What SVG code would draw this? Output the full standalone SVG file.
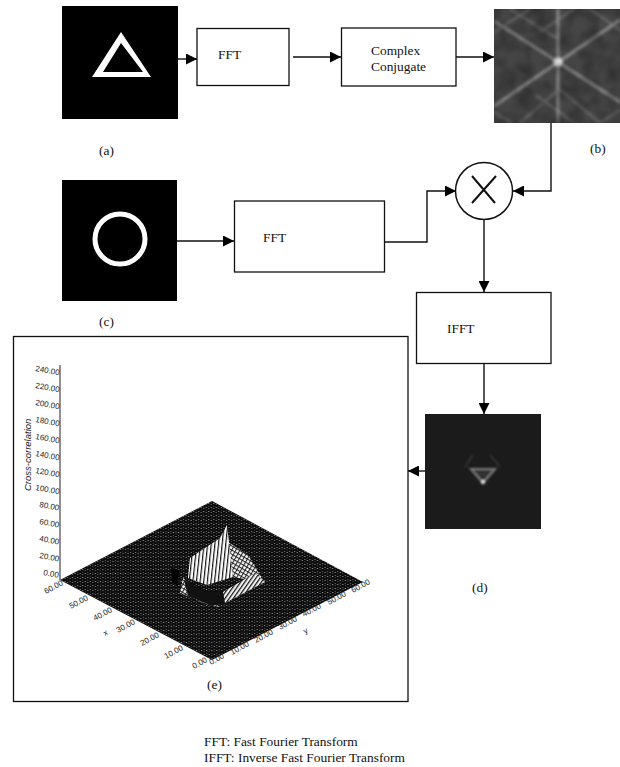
<svg xmlns="http://www.w3.org/2000/svg" width="620" height="767" viewBox="0 0 620 767">
<style>
.box{fill:#fff;stroke:#111;stroke-width:1.3}
.ln{fill:none;stroke:#111;stroke-width:1.4}
.t{font-family:"Liberation Serif","Times New Roman",serif;font-size:13.4px;fill:#111}
.tk{font-family:"Liberation Sans",Arial,sans-serif;font-size:8px;fill:#222}
.bright{stroke:#fff;fill:none;stroke-width:5}
.band{stroke:#8a8a8a;fill:none}
</style>
<defs>
<marker id="ah" viewBox="0 0 11 11" refX="11" refY="5.500" markerWidth="11" markerHeight="11" markerUnits="userSpaceOnUse" orient="auto"><path d="M0 0L11 5.500L0 11Z" fill="#000"/></marker>
<pattern id="mesh" width="1" height="1" patternUnits="userSpaceOnUse" patternTransform="matrix(2.53 1.33 2.52 -1.32 60 580)">
<rect width="1" height="1" fill="#0c0c0c"/><circle cx=".5" cy=".5" r=".17" fill="#d0d0d0"/>
</pattern>
<pattern id="hatch" width="3.600" height="4" patternUnits="userSpaceOnUse" patternTransform="rotate(6)">
<rect width="3.600" height="4" fill="#fff"/><rect width="1.200" height="4" fill="#111"/>
</pattern>
<pattern id="hatch2" width="3.400" height="3.400" patternUnits="userSpaceOnUse" patternTransform="rotate(35)">
<rect width="3.400" height="3.400" fill="#f0f0f0"/><rect width="1.200" height="3.400" fill="#111"/>
</pattern>
<pattern id="net" width="3.600" height="3.600" patternUnits="userSpaceOnUse" patternTransform="rotate(30)">
<rect width="3.600" height="3.600" fill="#f4f4f4"/><rect width="1" height="3.600" fill="#222"/><rect width="3.600" height="1" fill="#222"/>
</pattern>
<filter id="b1" x="-20%" y="-20%" width="140%" height="140%"><feGaussianBlur stdDeviation="1.6"/></filter>
<filter id="b2" x="-50%" y="-50%" width="200%" height="200%"><feGaussianBlur stdDeviation="1"/></filter>
<filter id="noise" x="0" y="0" width="100%" height="100%"><feTurbulence type="fractalNoise" baseFrequency="0.06" numOctaves="2" seed="4"/><feColorMatrix values="0 0 0 0 0 0 0 0 0 0 0 0 0 0 0 1.4 0 0 0 -0.45"/></filter>
<clipPath id="cb"><rect x="494" y="9" width="126" height="114"/></clipPath>
</defs>

<g id="connectors">
<path class="ln" d="M178 59H197" marker-end="url(#ah)"/>
<path class="ln" d="M293 57H341" marker-end="url(#ah)"/>
<path class="ln" d="M456 57H494" marker-end="url(#ah)"/>
<path class="ln" d="M551 123V191H513" marker-end="url(#ah)"/>
<path class="ln" d="M177 241H234" marker-end="url(#ah)"/>
<path class="ln" d="M384 242H427V191H456" marker-end="url(#ah)"/>
<path class="ln" d="M484 219V292" marker-end="url(#ah)"/>
<path class="ln" d="M484 364V414" marker-end="url(#ah)"/>
<path class="ln" d="M425 471H408" marker-end="url(#ah)"/>
</g>

<g id="image-a"><rect x="62" y="6" width="116" height="113" fill="#000"/><path d="M121 32L151 77H92ZM121 43L103 72H143Z" fill="#fff" fill-rule="evenodd"/></g>
<g id="fft-1"><rect class="box" x="197" y="28.500" width="92" height="57"/><text class="t" x="218" y="59">FFT</text></g>
<g id="conjugate"><rect class="box" x="341.500" y="28" width="114.500" height="58"/><text class="t" x="371" y="55">Complex</text><text class="t" x="371" y="71">Conjugate</text></g>
<g id="image-b">
<rect x="494" y="9" width="126" height="114" fill="#454545"/>
<g clip-path="url(#cb)">
<g filter="url(#b1)">
<path class="band" stroke-width="3" d="M558 9V123M494 21L620 102M494 106L620 20"/>
<path class="band" stroke-width="2.500" stroke-opacity=".5" d="M494 112L512 123M590 9L620 30M494 32L530 9M600 123L620 110M510 9L556 38M556 86L600 123M520 123L556 92M574 9L540 32M574 123L536 95"/>
<circle cx="558" cy="62" r="4.500" fill="#e0e0e0" stroke="none"/>
</g>
<rect x="494" y="9" width="126" height="114" filter="url(#noise)" opacity=".4"/>
</g></g>
<g id="multiply"><circle cx="484" cy="191" r="28.500" fill="#fff" stroke="#111" stroke-width="1.500"/><path d="M472 176L495 203M496 176L472 203" stroke="#111" stroke-width="2" fill="none"/></g>
<g id="image-c"><rect x="62" y="180" width="115" height="121" fill="#000"/><circle class="bright" cx="120" cy="239" r="25"/></g>
<g id="fft-2"><rect class="box" x="234.500" y="201" width="150" height="71"/><text class="t" x="263" y="242">FFT</text></g>
<g id="ifft"><rect class="box" x="416.500" y="292.500" width="134.500" height="71"/><text class="t" x="447" y="333">IFFT</text></g>
<g id="image-d">
<rect x="425" y="414" width="116" height="115" fill="#1b1b1b"/>
<g filter="url(#b2)">
<path d="M465 467L473 455M490 455L500 467" stroke="#2e2e2e" stroke-width="2.500" fill="none"/>
<path d="M471 469H495L483 483Z" fill="#333" stroke="#777" stroke-width="2.200"/>
<circle cx="483" cy="482" r="2" fill="#eee"/>
</g></g>

<g id="plot">
<rect x="13.500" y="336.500" width="394.500" height="365" fill="#fff" stroke="#111" stroke-width="1.300"/>
<path d="M60 365V580" stroke="#222" stroke-width="1" fill="none"/>
<path d="M60 580L212 501L363 582L212 660Z" fill="url(#mesh)"/>
<path d="M171 568L179 570L178 586L172 582Z" fill="#000"/>
<path d="M228 542L248 555L265 583L233 577Z" fill="url(#net)"/>
<path d="M180 593L183 578L203 597L220 607L209 605Z" fill="url(#net)"/>
<path d="M184 580L207 592L225 592L255 573L265 582L225 603L212 606L188 596Z" fill="#111"/>
<path d="M223 592L255 573L265 582L225 603Z" fill="url(#hatch2)"/>
<path d="M190 558L220 538L227 525L233 577L207 585L188 578Z" fill="url(#hatch)"/>
<g class="tk">
<text transform="translate(35 371) rotate(10)">240.00</text>
<text transform="translate(35 388) rotate(10)">220.00</text>
<text transform="translate(35 405) rotate(10)">200.00</text>
<text transform="translate(35 422) rotate(10)">180.00</text>
<text transform="translate(35 439) rotate(10)">160.00</text>
<text transform="translate(35 456) rotate(10)">140.00</text>
<text transform="translate(35 473) rotate(10)">120.00</text>
<text transform="translate(35 490) rotate(10)">100.00</text>
<text transform="translate(39 507) rotate(10)">80.00</text>
<text transform="translate(39 524) rotate(10)">60.00</text>
<text transform="translate(39 541) rotate(10)">40.00</text>
<text transform="translate(39 558) rotate(10)">20.00</text>
<text transform="translate(43 575) rotate(10)">0.00</text>
<text transform="translate(46 594) rotate(-28)">60.00</text>
<text transform="translate(71 609) rotate(-28)">50.00</text>
<text transform="translate(95 621) rotate(-28)">40.00</text>
<text transform="translate(118 633) rotate(-28)">30.00</text>
<text transform="translate(142 646) rotate(-28)">20.00</text>
<text transform="translate(166 659) rotate(-28)">10.00</text>
<text transform="translate(194 669) rotate(-28)">0.00</text>
<text transform="translate(211 665) rotate(-28)">0.00</text>
<text transform="translate(232 655) rotate(-28)">10.00</text>
<text transform="translate(256 643) rotate(-28)">20.00</text>
<text transform="translate(280 630) rotate(-28)">30.00</text>
<text transform="translate(304 617) rotate(-28)">40.00</text>
<text transform="translate(329 605) rotate(-28)">50.00</text>
<text transform="translate(353 593) rotate(-28)">60.00</text>
<text transform="translate(105 636) rotate(-28)">x</text>
<text transform="translate(305 634) rotate(-28)">y</text>
<text transform="translate(31 491) rotate(-90)" font-style="italic" font-size="9.500">Cross-correlation</text>
</g>
</g>

<g id="labels">
<text class="t" x="99" y="155">(a)</text>
<text class="t" x="590" y="153">(b)</text>
<text class="t" x="99" y="326">(c)</text>
<text class="t" x="472" y="592">(d)</text>
<text class="t" x="207" y="689">(e)</text>
<text class="t" x="204" y="745.500">FFT: Fast Fourier Transform</text>
<text class="t" x="204" y="761.500">IFFT: Inverse Fast Fourier Transform</text>
</g>
</svg>
